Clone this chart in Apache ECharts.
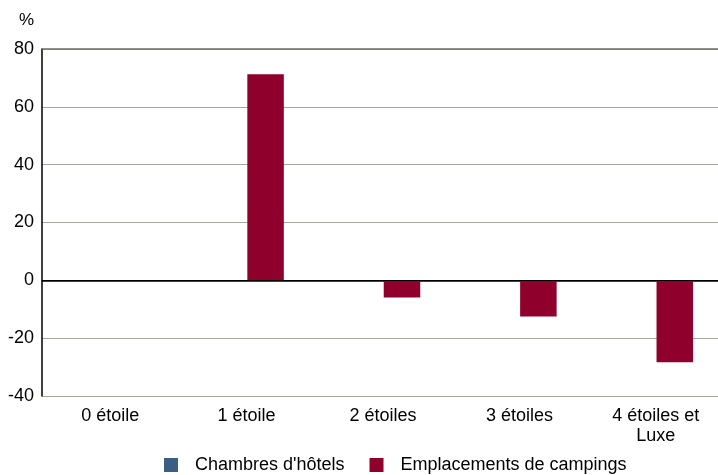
<!DOCTYPE html>
<html><head><meta charset="utf-8">
<script src="https://cdn.jsdelivr.net/npm/echarts@6/dist/echarts.min.js"></script>
<style>html,body{margin:0;padding:0;background:#fff;overflow:hidden;width:718px;height:475px}#c{width:724px;height:475px}</style>
</head><body><div id="c"></div>
<script>
var categories = ["0 étoile", "1 étoile", "2 étoiles", "3 étoiles", "4 étoiles et\nLuxe"];
var hotels = [null, null, null, null, null];
var campings = [null, 71.3, -5.9, -12.5, -28.3];
var yTicks = [-40, -20, 0, 20, 40, 60, 80];
var font = "Liberation Sans, Arial, sans-serif";
var chart = echarts.init(document.getElementById('c'));
chart.setOption({
  animation: false,
  grid: {left: 42, right: 0, top: 49, bottom: 79, containLabel: false},
  legend: {
    top: 451, left: 159, itemWidth: 14, itemHeight: 14, itemGap: 25,
    icon: 'rect',
    textStyle: {fontFamily: font, fontSize: 18, color: '#000', padding: [0, 0, 0, 12]},
    data: ["Chambres d'hôtels", "Emplacements de campings"]
  },
  xAxis: {
    type: 'category', data: categories,
    axisLine: {show: true, lineStyle: {color: '#000', width: 1.5}},
    axisTick: {show: false},
    axisLabel: {fontFamily: font, fontSize: 18, color: '#000', margin: 10, lineHeight: 20, interval: 0}
  },
  yAxis: {
    type: 'value', min: yTicks[0], max: yTicks[yTicks.length - 1], interval: 20,
    name: '%', nameLocation: 'end', nameGap: 20,
    nameTextStyle: {fontFamily: font, fontSize: 17, color: '#000', align: 'right', padding: [0, 8, 0, 0]},
    axisLine: {show: true, lineStyle: {color: '#000', width: 1.5}},
    axisTick: {show: false},
    axisLabel: {fontFamily: font, fontSize: 18, color: '#000', margin: 8},
    splitLine: {show: true, lineStyle: {color: '#a6a6a0', width: 1}}
  },
  series: [
    {name: "Chambres d'hôtels", type: 'bar', data: hotels, barWidth: 36.5, barGap: '4%',
     itemStyle: {color: '#3b5e82'}},
    {name: "Emplacements de campings", type: 'bar', data: campings, barWidth: 36.5, barGap: '4%',
     itemStyle: {color: '#8f002c'},
     markLine: {silent: true, symbol: 'none', label: {show: false},
       data: [
         {yAxis: 0, lineStyle: {color: '#000', width: 1.2, type: 'solid'}},
         {yAxis: yTicks[yTicks.length - 1], lineStyle: {color: '#6e6e66', width: 1.5, type: 'solid'}}
       ]}}
  ]
});
</script></body></html>
